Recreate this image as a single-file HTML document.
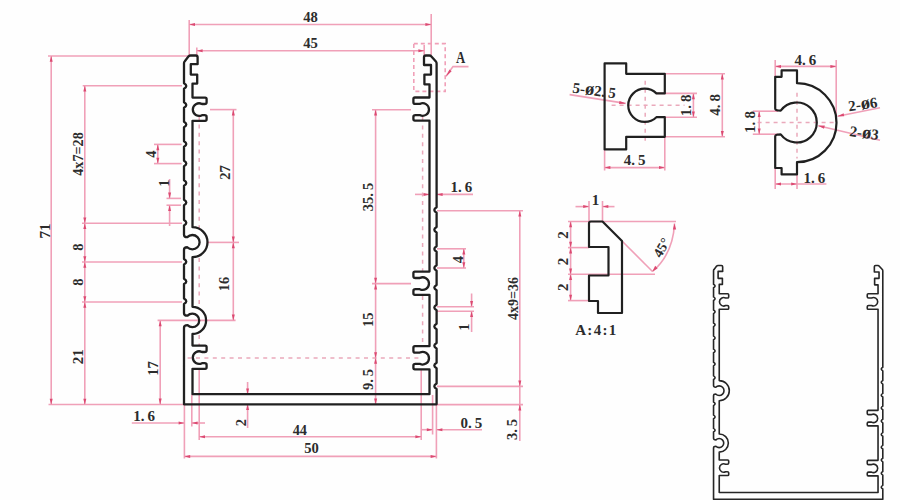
<!DOCTYPE html>
<html><head><meta charset="utf-8"><title>Profile drawing</title>
<style>
html,body{margin:0;padding:0;background:#fefefe;}
body{width:900px;height:500px;overflow:hidden;}
svg{display:block;}
.rd line,.rd polyline,.rd path,.rd rect{stroke:#f0a0b8;stroke-width:1.6;fill:none;}
.rd .ar{fill:#dc4a72;stroke:none;}
.rd .dsh line{stroke:#eaa9bb;stroke-width:1.5;}
.pf{fill:none;stroke:#202020;stroke-width:2.3;stroke-linejoin:round;}
.pf2{fill:none;stroke:#202020;stroke-width:2.2;stroke-linejoin:round;}
.pf3{fill:none;stroke:#262626;stroke-width:2.4;stroke-linejoin:round;}
.tx text{font-family:"Liberation Serif",serif;fill:#2c2c2c;font-weight:bold;}
</style></head>
<body>
<svg width="900" height="500" viewBox="0 0 900 500">
<rect x="0" y="0" width="900" height="500" fill="#fefefe"/>
<g class="rd">
<line x1="189.2" y1="20" x2="189.2" y2="55.5"/>
<line x1="431.2" y1="14" x2="431.2" y2="55.5"/>
<line x1="189.2" y1="24.5" x2="431.2" y2="24.5"/>
<polygon class="ar" points="189.2,24.5 195,23 195,26"/>
<polygon class="ar" points="431.2,24.5 425.4,23 425.4,26"/>
<line x1="196.8" y1="47.5" x2="196.8" y2="55.5"/>
<line x1="424.2" y1="45" x2="424.2" y2="55.5"/>
<line x1="196.8" y1="50.8" x2="424.2" y2="50.8"/>
<polygon class="ar" points="196.8,50.8 202.6,49.3 202.6,52.3"/>
<polygon class="ar" points="424.2,50.8 418.4,49.3 418.4,52.3"/>
<line x1="48" y1="56" x2="189" y2="56"/>
<line x1="48.5" y1="404.5" x2="184" y2="404.5"/>
<line x1="51.2" y1="56" x2="51.2" y2="404.5"/>
<polygon class="ar" points="51.2,56 49.7,61.8 52.7,61.8"/>
<polygon class="ar" points="51.2,404.5 49.7,398.7 52.7,398.7"/>
<line x1="82.7" y1="85.8" x2="182" y2="85.8"/>
<line x1="82" y1="223.2" x2="182" y2="223.2"/>
<line x1="82" y1="262" x2="182" y2="262"/>
<line x1="82" y1="302" x2="182" y2="302"/>
<line x1="84.8" y1="85.8" x2="84.8" y2="404.5"/>
<polygon class="ar" points="84.8,85.8 83.3,91.6 86.3,91.6"/>
<polygon class="ar" points="84.8,223.2 83.3,217.4 86.3,217.4"/>
<polygon class="ar" points="84.8,223.2 83.3,229 86.3,229"/>
<polygon class="ar" points="84.8,262 83.3,256.2 86.3,256.2"/>
<polygon class="ar" points="84.8,262 83.3,267.8 86.3,267.8"/>
<polygon class="ar" points="84.8,302 83.3,296.2 86.3,296.2"/>
<polygon class="ar" points="84.8,302 83.3,307.8 86.3,307.8"/>
<polygon class="ar" points="84.8,404.5 83.3,398.7 86.3,398.7"/>
<line x1="154" y1="144.4" x2="181.6" y2="144.4"/>
<line x1="154" y1="163.6" x2="181.6" y2="163.6"/>
<line x1="157.8" y1="144.4" x2="157.8" y2="163.6"/>
<polygon class="ar" points="157.8,144.4 156.3,150.2 159.3,150.2"/>
<polygon class="ar" points="157.8,163.6 156.3,157.8 159.3,157.8"/>
<line x1="166.5" y1="198.4" x2="181" y2="198.4"/>
<line x1="166.5" y1="205.2" x2="181" y2="205.2"/>
<line x1="169.6" y1="179" x2="169.6" y2="198.4"/>
<polygon class="ar" points="169.6,198.4 168.1,192.6 171.1,192.6"/>
<line x1="169.6" y1="205.2" x2="169.6" y2="226"/>
<polygon class="ar" points="169.6,205.2 168.1,211 171.1,211"/>
<line x1="210" y1="109.6" x2="236.5" y2="109.6"/>
<line x1="207" y1="242.4" x2="239" y2="242.4"/>
<line x1="157.6" y1="320.4" x2="235.6" y2="320.4"/>
<line x1="233.3" y1="109.6" x2="233.3" y2="320.4"/>
<polygon class="ar" points="233.3,109.6 231.8,115.4 234.8,115.4"/>
<polygon class="ar" points="233.3,242.4 231.8,236.6 234.8,236.6"/>
<polygon class="ar" points="233.3,242.4 231.8,248.2 234.8,248.2"/>
<polygon class="ar" points="233.3,320.4 231.8,314.6 234.8,314.6"/>
<line x1="160.2" y1="320.4" x2="160.2" y2="404.4"/>
<polygon class="ar" points="160.2,320.4 158.7,326.2 161.7,326.2"/>
<polygon class="ar" points="160.2,404.4 158.7,398.6 161.7,398.6"/>
<g class="dsh" stroke-dasharray="4 4.4">
<line x1="199.2" y1="116" x2="199.2" y2="229"/>
<line x1="199.2" y1="258" x2="199.2" y2="306"/>
<line x1="199.2" y1="335" x2="199.2" y2="346"/>
<line x1="422.6" y1="117" x2="422.6" y2="272"/>
<line x1="422.6" y1="296" x2="422.6" y2="347"/>
<line x1="187.6" y1="358" x2="422.6" y2="358"/>
</g>
<line x1="184.4" y1="404.5" x2="184.4" y2="458.5"/>
<line x1="191.8" y1="394.5" x2="191.8" y2="426.5"/>
<line x1="199.2" y1="369" x2="199.2" y2="440"/>
<line x1="421.2" y1="369" x2="421.2" y2="440"/>
<line x1="432.6" y1="395" x2="432.6" y2="434.5"/>
<line x1="436.4" y1="404.5" x2="436.4" y2="458.5"/>
<line x1="131.8" y1="423" x2="184.4" y2="423"/>
<polygon class="ar" points="184.4,423 178.6,421.5 178.6,424.5"/>
<line x1="191.8" y1="423" x2="205" y2="423"/>
<polygon class="ar" points="191.8,423 197.6,421.5 197.6,424.5"/>
<line x1="199.2" y1="436.8" x2="421.2" y2="436.8"/>
<polygon class="ar" points="199.2,436.8 205,435.3 205,438.3"/>
<polygon class="ar" points="421.2,436.8 415.4,435.3 415.4,438.3"/>
<line x1="184.4" y1="456.4" x2="436.4" y2="456.4"/>
<polygon class="ar" points="184.4,456.4 190.2,454.9 190.2,457.9"/>
<polygon class="ar" points="436.4,456.4 430.6,454.9 430.6,457.9"/>
<line x1="247.6" y1="382" x2="247.6" y2="394.2"/>
<polygon class="ar" points="247.6,394.2 246.1,388.4 249.1,388.4"/>
<line x1="247.6" y1="404.3" x2="247.6" y2="428"/>
<polygon class="ar" points="247.6,404.3 246.1,410.1 249.1,410.1"/>
<line x1="372" y1="109.8" x2="411" y2="109.8"/>
<line x1="372" y1="283.6" x2="411" y2="283.6"/>
<line x1="375.6" y1="109.8" x2="375.6" y2="404.4"/>
<polygon class="ar" points="375.6,109.8 374.1,115.6 377.1,115.6"/>
<polygon class="ar" points="375.6,283.6 374.1,277.8 377.1,277.8"/>
<polygon class="ar" points="375.6,283.6 374.1,289.4 377.1,289.4"/>
<polygon class="ar" points="375.6,358 374.1,352.2 377.1,352.2"/>
<polygon class="ar" points="375.6,358 374.1,363.8 377.1,363.8"/>
<polygon class="ar" points="375.6,404.4 374.1,398.6 377.1,398.6"/>
<line x1="415" y1="194.4" x2="429.4" y2="194.4"/>
<polygon class="ar" points="429.4,194.4 423.6,192.9 423.6,195.9"/>
<line x1="436.8" y1="194.4" x2="473" y2="194.4"/>
<polygon class="ar" points="436.8,194.4 442.6,192.9 442.6,195.9"/>
<line x1="437" y1="210.8" x2="523" y2="210.8"/>
<line x1="437" y1="386.4" x2="523" y2="386.4"/>
<line x1="437" y1="404.6" x2="523" y2="404.6"/>
<line x1="519.8" y1="210.8" x2="519.8" y2="441"/>
<polygon class="ar" points="519.8,210.8 518.3,216.6 521.3,216.6"/>
<polygon class="ar" points="519.8,386.4 518.3,380.6 521.3,380.6"/>
<polygon class="ar" points="519.8,404.6 518.3,410.4 521.3,410.4"/>
<line x1="437" y1="248.8" x2="466" y2="248.8"/>
<line x1="437" y1="268" x2="466" y2="268"/>
<line x1="463.8" y1="248.8" x2="463.8" y2="268"/>
<polygon class="ar" points="463.8,248.8 462.3,254.6 465.3,254.6"/>
<polygon class="ar" points="463.8,268 462.3,262.2 465.3,262.2"/>
<line x1="437" y1="306.8" x2="474" y2="306.8"/>
<line x1="437" y1="311.2" x2="474" y2="311.2"/>
<line x1="471.6" y1="293.5" x2="471.6" y2="306.8"/>
<polygon class="ar" points="471.6,306.8 470.1,301 473.1,301"/>
<line x1="471.6" y1="311.2" x2="471.6" y2="332"/>
<polygon class="ar" points="471.6,311.2 470.1,317 473.1,317"/>
<line x1="421.6" y1="429.7" x2="432.6" y2="429.7"/>
<polygon class="ar" points="432.6,429.7 426.8,428.2 426.8,431.2"/>
<line x1="436.6" y1="429.7" x2="482" y2="429.7"/>
<polygon class="ar" points="436.6,429.7 442.4,428.2 442.4,431.2"/>
<rect x="413.8" y="43.6" width="31.4" height="47.8" fill="none" stroke-dasharray="4 3"/>
<polyline fill="none" points="446,76.2 453,66.6 468.5,66.6"/>
<polygon class="ar" points="446,76.5 449.5,69.5 451.6,71.2"/>
</g>
<path class="pf" d="M 184 63.2 Q 184 62 184.8 61.2 L 188.6 56.3 Q 189.4 55.5 190.6 55.5 L 195.8 55.5 Q 197.6 55.5 197.6 57.3 L 197.6 64.2 L 190.8 64.2 L 190.8 74.6 L 197.2 74.6 L 197.2 83.6 L 192.5 83.6 L 192.5 97.6 L 205.1 97.6 Q 206.6 97.6 206.6 99.1 L 206.6 102.3 Q 206.6 104 204.6 104 L 202 104 A 6.3 6.3 0 1 0 202 115.2 L 204.6 115.2 Q 206.6 115.2 206.6 116.9 L 206.6 119.2 Q 206.6 120.8 205.1 120.8 L 192.5 120.8 L 192.5 227.2 A 15 15 0 0 1 192.5 257.2 L 192.5 306.8 A 13.6 13.6 0 0 1 192.5 334 L 192.5 345.6 L 205.1 345.6 Q 206.6 345.6 206.6 347.1 L 206.6 350.3 Q 206.6 352 204.6 352 L 202 352 A 6.3 6.3 0 1 0 202 363.2 L 204.6 363.2 Q 206.6 363.2 206.6 364.9 L 206.6 367.2 Q 206.6 368.8 205.1 368.8 L 192.5 368.8 L 192.5 394.2 L 429.5 394.2 L 429.5 369.4 L 414.9 369.4 Q 413.4 369.4 413.4 367.8 L 413.4 365.5 Q 413.4 363.8 415.4 363.8 L 419.8 363.8 A 6.3 6.3 0 1 0 419.8 352.6 L 415.4 352.6 Q 413.4 352.6 413.4 350.9 L 413.4 347.7 Q 413.4 346.2 414.9 346.2 L 429.5 346.2 L 429.5 294.8 L 414.9 294.8 Q 413.4 294.8 413.4 293.2 L 413.4 290.9 Q 413.4 289.2 415.4 289.2 L 419.8 289.2 A 6.3 6.3 0 1 0 419.8 278 L 415.4 278 Q 413.4 278 413.4 276.3 L 413.4 273.1 Q 413.4 271.6 414.9 271.6 L 429.5 271.6 L 429.5 120.7 L 414.9 120.7 Q 413.4 120.7 413.4 119.1 L 413.4 116.8 Q 413.4 115.1 415.4 115.1 L 419.8 115.1 A 6.3 6.3 0 1 0 419.8 103.9 L 415.4 103.9 Q 413.4 103.9 413.4 102.2 L 413.4 99 Q 413.4 97.5 414.9 97.5 L 429.5 97.5 L 429.5 84.3 L 424.4 84.3 L 424.4 74.6 L 431 74.6 L 431 65 L 424 65 L 424 57.3 Q 424 55.5 425.8 55.5 L 429.4 55.5 Q 430.6 55.5 431.4 56.4 L 435.9 61.5 Q 436.6 62.3 436.6 63.6 L 436.6 207.3 Q 432 210 436.6 212.7 L 436.6 227.1 Q 432 229.8 436.6 232.5 L 436.6 246.3 Q 432 249 436.6 251.7 L 436.6 265.3 Q 432 268 436.6 270.7 L 436.6 284.9 Q 432 287.6 436.6 290.3 L 436.6 304.8 Q 432 307.5 436.6 310.2 L 436.6 323.8 Q 432 326.5 436.6 329.2 L 436.6 343.1 Q 432 345.8 436.6 348.5 L 436.6 362.8 Q 432 365.5 436.6 368.2 L 436.6 383.5 Q 432 386.2 436.6 388.9 L 436.6 404.3 L 184 404.3 L 184 327.66 Q 184 325.16 187.54 325.16 A 6.8 6.8 0 1 0 187.54 315.64 Q 184 315.64 184 313.14 L 184 303.9 Q 188.6 301.2 184 298.5 L 184 284.1 Q 188.6 281.4 184 278.7 L 184 264.5 Q 188.6 261.8 184 259.1 L 184 249.74 Q 184 247.24 187.26 247.24 A 7.2 7.2 0 1 0 187.26 237.16 Q 184 237.16 184 234.66 L 184 225.5 Q 188.6 222.8 184 220.1 L 184 205.2 Q 188.6 202.5 184 199.8 L 184 185.7 Q 188.6 183 184 180.3 L 184 166.2 Q 188.6 163.5 184 160.8 L 184 146.7 Q 188.6 144 184 141.3 L 184 127.2 Q 188.6 124.5 184 121.8 L 184 107.7 Q 188.6 105 184 102.3 L 184 88.7 Q 188.6 86 184 83.3 Z"/>
<g class="tx">
<text class="t" font-size="14.6" text-anchor="middle" x="310.6" y="22.2">48</text>
<text class="t" font-size="14.6" text-anchor="middle" x="310.6" y="48.4">45</text>
<text class="t" font-size="15" text-anchor="middle" transform="translate(44.8 231) rotate(-90)" dy="0.35em">71</text>
<text class="t" font-size="14.2" text-anchor="middle" transform="translate(77.6 154) rotate(-90)" dy="0.35em">4x7=28</text>
<text class="t" font-size="14.5" text-anchor="middle" transform="translate(78.2 247.2) rotate(-90)" dy="0.35em">8</text>
<text class="t" font-size="14.5" text-anchor="middle" transform="translate(78.2 282.2) rotate(-90)" dy="0.35em">8</text>
<text class="t" font-size="15" text-anchor="middle" transform="translate(77.4 356.7) rotate(-90)" dy="0.35em">21</text>
<text class="t" font-size="14.5" text-anchor="middle" transform="translate(151 154) rotate(-90)" dy="0.35em">4</text>
<text class="t" font-size="14.5" text-anchor="middle" transform="translate(163.6 183) rotate(-90)" dy="0.35em">1</text>
<text class="t" font-size="14.5" text-anchor="middle" transform="translate(225.2 172.6) rotate(-90)" dy="0.35em">27</text>
<text class="t" font-size="14.5" text-anchor="middle" transform="translate(224.3 284) rotate(-90)" dy="0.35em">16</text>
<text class="t" font-size="14.5" text-anchor="middle" transform="translate(152.8 368.6) rotate(-90)" dy="0.35em">17</text>
<text class="t" font-size="15" text-anchor="middle" x="144.2" y="420.6">1.&#8201;6</text>
<text class="t" font-size="14.3" text-anchor="middle" x="299.8" y="434.6">44</text>
<text class="t" font-size="14.6" text-anchor="middle" x="311.6" y="453">50</text>
<text class="t" font-size="14.5" text-anchor="middle" transform="translate(240.6 422.6) rotate(-90)" dy="0.35em">2</text>
<text class="t" font-size="14.5" text-anchor="middle" transform="translate(368.3 197) rotate(-90)" dy="0.35em">35.&#8201;5</text>
<text class="t" font-size="14.5" text-anchor="middle" transform="translate(368.2 319.8) rotate(-90)" dy="0.35em">15</text>
<text class="t" font-size="14.5" text-anchor="middle" transform="translate(368.2 379.6) rotate(-90)" dy="0.35em">9.&#8201;5</text>
<text class="t" font-size="15" text-anchor="middle" x="461.3" y="191.6">1.&#8201;6</text>
<text class="t" font-size="14" text-anchor="middle" transform="translate(512.7 298.5) rotate(-90)" dy="0.35em">4x9=36</text>
<text class="t" font-size="14.5" text-anchor="middle" transform="translate(458 259.6) rotate(-90)" dy="0.35em">4</text>
<text class="t" font-size="14.5" text-anchor="middle" transform="translate(464.4 327) rotate(-90)" dy="0.35em">1</text>
<text class="t" font-size="15" text-anchor="middle" x="471.3" y="428">0.&#8201;5</text>
<text class="t" font-size="14.5" text-anchor="middle" transform="translate(512 429.6) rotate(-90)" dy="0.35em">3.&#8201;5</text>
<text class="t" font-size="16" text-anchor="middle" transform="translate(460.5 63.3) scale(0.8 1)" font-weight="bold">A</text>
</g>
<g class="rd">
<g class="dsh" stroke-dasharray="4 4">
<line x1="611.6" y1="105.2" x2="684.5" y2="105.2"/>
<line x1="645.2" y1="80.8" x2="645.2" y2="142.4"/>
</g>
<line x1="656" y1="93.4" x2="697" y2="93.4"/>
<line x1="656" y1="117.2" x2="697" y2="117.2"/>
<line x1="693.4" y1="93.4" x2="693.4" y2="117.2"/>
<polygon class="ar" points="693.4,93.4 691.9,99.2 694.9,99.2"/>
<polygon class="ar" points="693.4,117.2 691.9,111.4 694.9,111.4"/>
<line x1="665" y1="73.8" x2="725" y2="73.8"/>
<line x1="665" y1="136.8" x2="725" y2="136.8"/>
<line x1="722.3" y1="73.8" x2="722.3" y2="136.8"/>
<polygon class="ar" points="722.3,73.8 720.8,79.6 723.8,79.6"/>
<polygon class="ar" points="722.3,136.8 720.8,131 723.8,131"/>
<line x1="604.6" y1="149.4" x2="604.6" y2="170.5"/>
<line x1="664.8" y1="136.8" x2="664.8" y2="170.5"/>
<line x1="604.6" y1="167.6" x2="664.8" y2="167.6"/>
<polygon class="ar" points="604.6,167.6 610.4,166.1 610.4,169.1"/>
<polygon class="ar" points="664.8,167.6 659,166.1 659,169.1"/>
<line x1="569.6" y1="94.6" x2="625.6" y2="103.4"/>
<polygon class="ar" points="626,103.5 619.5,100.9 619,104.1"/>
</g>
<path class="pf2" d="M 604.6 63.4 L 626.2 63.4 L 626.2 73.8 L 664.8 73.8 L 664.8 93.4 L 656.4 93.4 A 16.6 16.6 0 1 0 656.4 117.2 L 664.8 117.2 L 664.8 136.8 L 626.2 136.8 L 626.2 149.4 L 604.6 149.4 Z"/>
<g class="tx">
<text class="t" font-size="15" text-anchor="middle" transform="translate(593.6 95.4) rotate(7.5)">5-<tspan font-size="18.5">&#248;</tspan>2.&#8201;5</text>
<text class="t" font-size="15" text-anchor="middle" transform="translate(686.2 105.3) rotate(-90)" dy="0.35em">1.&#8201;8</text>
<text class="t" font-size="15" text-anchor="middle" transform="translate(715.2 104.8) rotate(-90)" dy="0.35em">4.&#8201;8</text>
<text class="t" font-size="15" text-anchor="middle" x="634.7" y="165">4.&#8201;5</text>
</g>
<g class="rd">
<g class="dsh" stroke-dasharray="4 4">
<line x1="757.6" y1="122.6" x2="836" y2="122.6"/>
<line x1="797" y1="92.8" x2="797" y2="158.4"/>
</g>
<line x1="775.2" y1="60" x2="775.2" y2="76.8"/>
<line x1="836.2" y1="60" x2="836.2" y2="122"/>
<line x1="775.2" y1="66.4" x2="836.2" y2="66.4"/>
<polygon class="ar" points="775.2,66.4 781,64.9 781,67.9"/>
<polygon class="ar" points="836.2,66.4 830.4,64.9 830.4,67.9"/>
<line x1="752.8" y1="111.2" x2="778" y2="111.2"/>
<line x1="752.8" y1="134.2" x2="778" y2="134.2"/>
<line x1="759.2" y1="111.2" x2="759.2" y2="134.2"/>
<polygon class="ar" points="759.2,111.2 757.7,117 760.7,117"/>
<polygon class="ar" points="759.2,134.2 757.7,128.4 760.7,128.4"/>
<line x1="775.2" y1="168" x2="775.2" y2="189"/>
<line x1="797" y1="174.4" x2="797" y2="189"/>
<line x1="775.2" y1="184" x2="826.4" y2="184"/>
<polygon class="ar" points="775.2,184 781,182.5 781,185.5"/>
<polygon class="ar" points="797,184 791.2,182.5 791.2,185.5"/>
<line x1="837.6" y1="116.2" x2="880" y2="107.8"/>
<polygon class="ar" points="837.4,116.3 843.6,113.3 844.2,116.3"/>
<line x1="818.4" y1="125.8" x2="880" y2="140.2"/>
<polygon class="ar" points="818.2,125.8 824.8,125.6 824.0,128.7"/>
</g>
<path class="pf2" d="M 775.2 76.8 L 781.6 76.8 L 781.6 70.4 L 797 70.4 L 797 83.2 A 39.4 39.4 0 0 1 797 162.2 L 797 174.4 L 781.6 174.4 L 781.6 168 L 775.2 168 L 775.2 136.6 Q 775.2 134.4 780.7 134.4 A 20 20 0 1 0 780.7 110.6 Q 775.2 110.6 775.2 108.4 Z"/>
<g class="tx">
<text class="t" font-size="15" text-anchor="middle" x="805.4" y="64.8">4.&#8201;6</text>
<text class="t" font-size="15" text-anchor="middle" transform="translate(749.4 122) rotate(-90)" dy="0.35em">1.&#8201;8</text>
<text class="t" font-size="15" text-anchor="middle" x="814.4" y="183">1.&#8201;6</text>
<text class="t" font-size="15" text-anchor="middle" transform="translate(863.5 109.2) rotate(-8)">2-<tspan font-size="18.5">&#248;</tspan>6</text>
<text class="t" font-size="15" text-anchor="middle" transform="translate(863.5 138) rotate(8)">2-<tspan font-size="18.5">&#248;</tspan>3</text>
</g>
<g class="rd">
<line x1="568" y1="221.5" x2="676" y2="221.5"/>
<line x1="568" y1="247.6" x2="589" y2="247.6"/>
<line x1="568" y1="274.2" x2="655" y2="274.2"/>
<line x1="568" y1="300.6" x2="589" y2="300.6"/>
<line x1="570.6" y1="221.5" x2="570.6" y2="300.6"/>
<polygon class="ar" points="570.6,221.5 569.1,227.3 572.1,227.3"/>
<polygon class="ar" points="570.6,247.6 569.1,241.8 572.1,241.8"/>
<polygon class="ar" points="570.6,247.6 569.1,253.4 572.1,253.4"/>
<polygon class="ar" points="570.6,274.2 569.1,268.4 572.1,268.4"/>
<polygon class="ar" points="570.6,274.2 569.1,280 572.1,280"/>
<polygon class="ar" points="570.6,300.6 569.1,294.8 572.1,294.8"/>
<line x1="589" y1="201" x2="589" y2="221.5"/>
<line x1="602.5" y1="201" x2="602.5" y2="221.5"/>
<line x1="575.5" y1="206.6" x2="589" y2="206.6"/>
<polygon class="ar" points="589,206.6 583.2,205.1 583.2,208.1"/>
<line x1="602.5" y1="206.6" x2="614.5" y2="206.6"/>
<polygon class="ar" points="602.5,206.6 608.3,205.1 608.3,208.1"/>
<line x1="622" y1="241" x2="652.5" y2="271.5"/>
<path fill="none" d="M 674.5 223.5 Q 673 254 652.5 271.5"/>
<polygon class="ar" points="652.3,271.6 655.2,265.8 657.6,268.4"/>
<polygon class="ar" points="674.6,223.4 676.1,229.6 672.9,229.6"/>
</g>
<path class="pf2" d="M 589 223.3 Q 589 221.5 590.8 221.5 L 602.5 221.5 L 622 241 L 622 313 L 598 313 L 598 301 L 589 301 L 589 275.5 L 608.5 275.5 L 608.5 247 L 589 247 Z"/>
<g class="tx">
<text class="t" font-size="15" text-anchor="middle" transform="translate(562.6 235) rotate(-90)" dy="0.35em">2</text>
<text class="t" font-size="15" text-anchor="middle" transform="translate(562.6 261.5) rotate(-90)" dy="0.35em">2</text>
<text class="t" font-size="15" text-anchor="middle" transform="translate(562.6 287.2) rotate(-90)" dy="0.35em">2</text>
<text class="t" font-size="15" text-anchor="middle" x="595.4" y="205">1</text>
<text class="t" font-size="14" text-anchor="middle" transform="translate(661.5 247.5) rotate(-60)" dy="0.35em">45&#176;</text>
<text class="t" font-size="15" text-anchor="middle" x="596.4" y="334.5" letter-spacing="1.3">A:4:1</text>
</g>
<path class="pf3" transform="translate(590.27 228.38) scale(0.67)" d="M 184 63.2 Q 184 62 184.8 61.2 L 188.6 56.3 Q 189.4 55.5 190.6 55.5 L 195.8 55.5 Q 197.6 55.5 197.6 57.3 L 197.6 64.2 L 190.8 64.2 L 190.8 74.6 L 197.2 74.6 L 197.2 83.6 L 192.5 83.6 L 192.5 97.6 L 205.1 97.6 Q 206.6 97.6 206.6 99.1 L 206.6 102.3 Q 206.6 104 204.6 104 L 202 104 A 6.3 6.3 0 1 0 202 115.2 L 204.6 115.2 Q 206.6 115.2 206.6 116.9 L 206.6 119.2 Q 206.6 120.8 205.1 120.8 L 192.5 120.8 L 192.5 227.2 A 15 15 0 0 1 192.5 257.2 L 192.5 306.8 A 13.6 13.6 0 0 1 192.5 334 L 192.5 345.6 L 205.1 345.6 Q 206.6 345.6 206.6 347.1 L 206.6 350.3 Q 206.6 352 204.6 352 L 202 352 A 6.3 6.3 0 1 0 202 363.2 L 204.6 363.2 Q 206.6 363.2 206.6 364.9 L 206.6 367.2 Q 206.6 368.8 205.1 368.8 L 192.5 368.8 L 192.5 394.2 L 429.5 394.2 L 429.5 369.4 L 414.9 369.4 Q 413.4 369.4 413.4 367.8 L 413.4 365.5 Q 413.4 363.8 415.4 363.8 L 419.8 363.8 A 6.3 6.3 0 1 0 419.8 352.6 L 415.4 352.6 Q 413.4 352.6 413.4 350.9 L 413.4 347.7 Q 413.4 346.2 414.9 346.2 L 429.5 346.2 L 429.5 294.8 L 414.9 294.8 Q 413.4 294.8 413.4 293.2 L 413.4 290.9 Q 413.4 289.2 415.4 289.2 L 419.8 289.2 A 6.3 6.3 0 1 0 419.8 278 L 415.4 278 Q 413.4 278 413.4 276.3 L 413.4 273.1 Q 413.4 271.6 414.9 271.6 L 429.5 271.6 L 429.5 120.7 L 414.9 120.7 Q 413.4 120.7 413.4 119.1 L 413.4 116.8 Q 413.4 115.1 415.4 115.1 L 419.8 115.1 A 6.3 6.3 0 1 0 419.8 103.9 L 415.4 103.9 Q 413.4 103.9 413.4 102.2 L 413.4 99 Q 413.4 97.5 414.9 97.5 L 429.5 97.5 L 429.5 84.3 L 424.4 84.3 L 424.4 74.6 L 431 74.6 L 431 65 L 424 65 L 424 57.3 Q 424 55.5 425.8 55.5 L 429.4 55.5 Q 430.6 55.5 431.4 56.4 L 435.9 61.5 Q 436.6 62.3 436.6 63.6 L 436.6 207.3 Q 432 210 436.6 212.7 L 436.6 227.1 Q 432 229.8 436.6 232.5 L 436.6 246.3 Q 432 249 436.6 251.7 L 436.6 265.3 Q 432 268 436.6 270.7 L 436.6 284.9 Q 432 287.6 436.6 290.3 L 436.6 304.8 Q 432 307.5 436.6 310.2 L 436.6 323.8 Q 432 326.5 436.6 329.2 L 436.6 343.1 Q 432 345.8 436.6 348.5 L 436.6 362.8 Q 432 365.5 436.6 368.2 L 436.6 383.5 Q 432 386.2 436.6 388.9 L 436.6 404.3 L 184 404.3 L 184 327.66 Q 184 325.16 187.54 325.16 A 6.8 6.8 0 1 0 187.54 315.64 Q 184 315.64 184 313.14 L 184 303.9 Q 188.6 301.2 184 298.5 L 184 284.1 Q 188.6 281.4 184 278.7 L 184 264.5 Q 188.6 261.8 184 259.1 L 184 249.74 Q 184 247.24 187.26 247.24 A 7.2 7.2 0 1 0 187.26 237.16 Q 184 237.16 184 234.66 L 184 225.5 Q 188.6 222.8 184 220.1 L 184 205.2 Q 188.6 202.5 184 199.8 L 184 185.7 Q 188.6 183 184 180.3 L 184 166.2 Q 188.6 163.5 184 160.8 L 184 146.7 Q 188.6 144 184 141.3 L 184 127.2 Q 188.6 124.5 184 121.8 L 184 107.7 Q 188.6 105 184 102.3 L 184 88.7 Q 188.6 86 184 83.3 Z"/>
</svg>
</body></html>
